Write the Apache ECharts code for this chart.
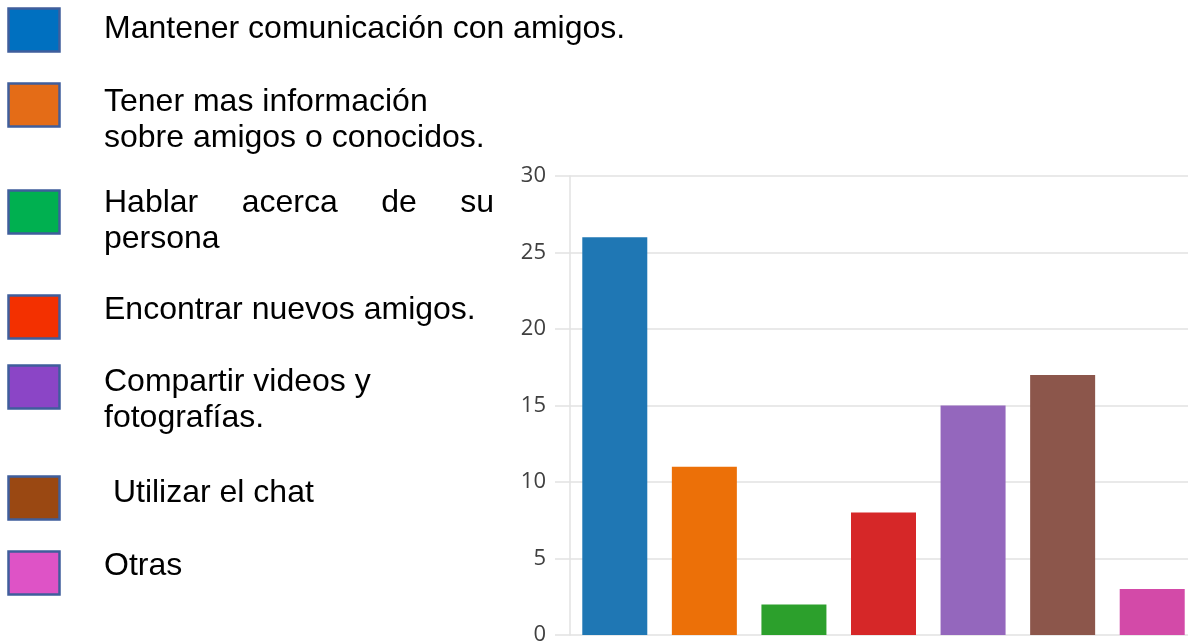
<!DOCTYPE html>
<html>
<head>
<meta charset="utf-8">
<script src="https://cdn.jsdelivr.net/npm/echarts@6/dist/echarts.min.js"></script>
<style>
  html, body { margin: 0; padding: 0; background: #fff; }
  #chart { width: 1188px; height: 643px; }
</style>
</head>
<body>
<div id="chart"></div>
<script>
// Reasons for using social networks, with response counts
const categories = [
  'Mantener comunicación con amigos.',
  'Tener mas información\nsobre amigos o conocidos.',
  'Hablar acerca de su\npersona',
  'Encontrar nuevos amigos.',
  'Compartir videos y\nfotografías.',
  ' Utilizar el chat',
  'Otras'
];
const counts = [26, 11, 2, 8, 15, 17, 3];
const barColors = ['#1f77b4', '#ec7008', '#2ca02c', '#d62728', '#9467bd', '#8c564b', '#d34aa8'];
const keyColors = ['#0070c0', '#e46c17', '#00b050', '#f33000', '#8b45c6', '#9a4812', '#de53c6'];
const yTicks = [0, 5, 10, 15, 20, 25, 30];

// Key layout: top of each swatch and first-line baseline of each label
const keyTop = [7, 82, 189, 294, 364, 475, 550];
const keyBaseline = [39, 112, 213, 320, 392, 503, 576];
const KEY_FONT = 32;
const KEY_LINE = 36;
const KEY_TEXT_X = 104;
const FONT_FAMILY = '"Liberation Sans", Arial, sans-serif';
// the third label's first line is justified to this right edge
const JUSTIFY_RIGHT = 494;

const measureCtx = document.createElement('canvas').getContext('2d');
measureCtx.font = KEY_FONT + 'px ' + FONT_FAMILY;

function textEl(str, x, baseline) {
  return {
    type: 'text',
    x: x,
    y: baseline - KEY_FONT * 0.31,
    silent: true,
    style: {
      text: str,
      font: KEY_FONT + 'px ' + FONT_FAMILY,
      fill: '#000',
      verticalAlign: 'middle',
      align: 'left'
    }
  };
}

const keyGraphics = [];
categories.forEach(function (name, i) {
  keyGraphics.push({
    type: 'rect',
    silent: true,
    shape: { x: 8.5, y: keyTop[i] + 1.5, width: 51, height: 43 },
    style: { fill: keyColors[i], stroke: '#3f5e9c', lineWidth: 2.5 }
  });
  const lines = name.split('\n');
  lines.forEach(function (line, k) {
    const baseline = keyBaseline[i] + k * KEY_LINE;
    if (i === 2 && k === 0 && lines.length > 1) {
      // justified line: spread the words across the available width
      const words = line.split(' ');
      const widths = words.map(function (w) { return measureCtx.measureText(w).width; });
      const total = widths.reduce(function (a, b) { return a + b; }, 0);
      const gap = (JUSTIFY_RIGHT - KEY_TEXT_X - total) / (words.length - 1);
      let x = KEY_TEXT_X;
      words.forEach(function (w, j) {
        keyGraphics.push(textEl(w, x, baseline));
        x += widths[j] + gap;
      });
    } else {
      keyGraphics.push(textEl(line, KEY_TEXT_X, baseline));
    }
  });
});

const chart = echarts.init(document.getElementById('chart'), null, { renderer: 'canvas' });
chart.setOption({
  animation: false,
  backgroundColor: '#fff',
  grid: {
    left: 570, top: 176, width: 627, height: 459,
    containLabel: false,
    outerBoundsMode: 'none'
  },
  xAxis: {
    type: 'category',
    data: categories,
    axisLine: { show: false },
    axisTick: { show: false },
    axisLabel: { show: false },
    splitLine: { show: false }
  },
  yAxis: {
    type: 'value',
    min: yTicks[0],
    max: yTicks[yTicks.length - 1],
    interval: yTicks[1] - yTicks[0],
    axisLine: { show: true, lineStyle: { color: '#e2e2e2', width: 1.5 } },
    axisTick: { show: true, length: 15, lineStyle: { color: '#e2e2e2', width: 1.5 } },
    axisLabel: {
      margin: 24,
      color: '#404040',
      fontSize: 22,
      fontFamily: '"Open Sans", "Noto Sans", sans-serif'
    },
    splitLine: { show: true, lineStyle: { color: '#e2e2e2', width: 1.5 } }
  },
  series: [{
    type: 'bar',
    data: counts.map(function (v, i) {
      return { value: v, itemStyle: { color: barColors[i] } };
    }),
    barWidth: 65,
    silent: true
  }],
  graphic: keyGraphics
});
</script>
</body>
</html>
